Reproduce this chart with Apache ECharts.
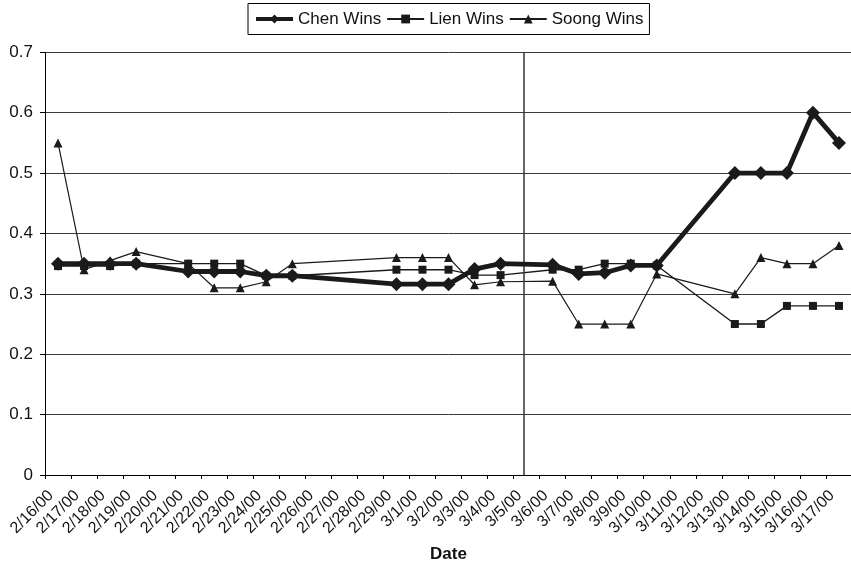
<!DOCTYPE html>
<html>
<head>
<meta charset="utf-8">
<script src="https://cdn.jsdelivr.net/npm/echarts@6/dist/echarts.min.js"></script>
<style>
html,body{margin:0;padding:0;background:#fff;}
#chart{width:851px;height:565px;}
</style>
</head>
<body>
<div id="chart"></div>
<script>
const dates = ['2/16/00','2/17/00','2/18/00','2/19/00','2/20/00','2/21/00','2/22/00','2/23/00','2/24/00','2/25/00','2/26/00','2/27/00','2/28/00','2/29/00','3/1/00','3/2/00','3/3/00','3/4/00','3/5/00','3/6/00','3/7/00','3/8/00','3/9/00','3/10/00','3/11/00','3/12/00','3/13/00','3/14/00','3/15/00','3/16/00','3/17/00'];
const chenWins = [0.35,0.35,0.35,0.35,null,0.337,0.337,0.337,0.33,0.33,null,null,null,0.316,0.316,0.316,0.341,0.35,null,0.348,0.333,0.335,0.347,0.347,null,null,0.5,0.5,0.5,0.6,0.55];
const lienWins = [0.346,0.346,0.346,0.35,null,0.35,0.35,0.35,0.33,0.33,null,null,null,0.34,0.34,0.34,0.331,0.331,null,0.34,0.34,0.35,0.35,0.347,null,null,0.25,0.25,0.28,0.28,0.28];
const soongWins = [0.55,0.34,0.355,0.37,null,0.35,0.31,0.31,0.32,0.35,null,null,null,0.36,0.36,0.36,0.315,0.32,null,0.321,0.25,0.25,0.25,0.333,null,null,0.30,0.36,0.35,0.35,0.38];
const seriesNames = ['Chen Wins','Lien Wins','Soong Wins'];
const yTicks = {min: 0, max: 0.7, interval: 0.1};
const dividerPos = 18.38; // position of the vertical divider, in category units from the axis start

const ink = '#1a1a1a';
const font = 'Liberation Sans, Arial, sans-serif';

const chart = echarts.init(document.getElementById('chart'), null, {renderer: 'canvas'});
chart.setOption({
  animation: false,
  backgroundColor: '#fff',
  legend: {
    data: [
      {name: seriesNames[0], lineStyle: {width: 4}},
      {name: seriesNames[1]},
      {name: seriesNames[2]}
    ],
    left: 248,
    top: 3.5,
    padding: [7, 6],
    itemGap: 5,
    itemWidth: 37,
    itemHeight: 11,
    borderColor: '#000',
    borderWidth: 1,
    textStyle: {fontFamily: font, fontSize: 17, color: '#111'}
  },
  grid: {left: 45, top: 52.3, width: 807, bottom: 90, containLabel: false, outerBoundsMode: 'none'},
  xAxis: [{
    type: 'category',
    data: dates,
    boundaryGap: true,
    name: 'Date',
    nameLocation: 'middle',
    nameGap: 71,
    nameTextStyle: {fontFamily: font, fontSize: 17, fontWeight: 'bold', color: '#111'},
    axisLine: {lineStyle: {color: '#000', width: 1}},
    axisTick: {show: true, length: 4, lineStyle: {color: '#000'}},
    axisLabel: {interval: 0, rotate: 45, margin: 11, padding: [0, 10, 0, 0], fontFamily: font, fontSize: 16, color: '#111'},
    splitLine: {show: false}
  }, {
    type: 'value',
    min: 0,
    max: dates.length,
    show: false
  }],
  yAxis: {
    type: 'value',
    min: yTicks.min,
    max: yTicks.max,
    interval: yTicks.interval,
    axisLine: {show: true, lineStyle: {color: '#000', width: 1}},
    axisTick: {show: true, length: 5, lineStyle: {color: '#000'}},
    axisLabel: {margin: 12, fontFamily: font, fontSize: 17, color: '#111'},
    splitLine: {show: true, lineStyle: {color: '#3a3a3a', width: 1}}
  },
  series: [
    {
      name: 'Soong Wins', type: 'line', data: soongWins, connectNulls: true,
      symbol: 'triangle', symbolSize: 9, z: 3,
      lineStyle: {color: ink, width: 1.2}, itemStyle: {color: ink}
    },
    {
      name: 'Lien Wins', type: 'line', data: lienWins, connectNulls: true,
      symbol: 'rect', symbolSize: 8, z: 4,
      lineStyle: {color: ink, width: 1.4}, itemStyle: {color: ink}
    },
    {
      name: 'Chen Wins', type: 'line', data: chenWins, connectNulls: true,
      symbol: 'diamond', symbolSize: 14, z: 5,
      lineStyle: {color: ink, width: 4.8}, itemStyle: {color: ink}
    },
    {
      name: 'divider', type: 'line', xAxisIndex: 1, data: [], silent: true,
      markLine: {
        symbol: 'none', silent: true, label: {show: false},
        lineStyle: {color: '#333', width: 1.5, type: 'solid'},
        data: [{xAxis: dividerPos}]
      }
    }
  ]
});
</script>
</body>
</html>
